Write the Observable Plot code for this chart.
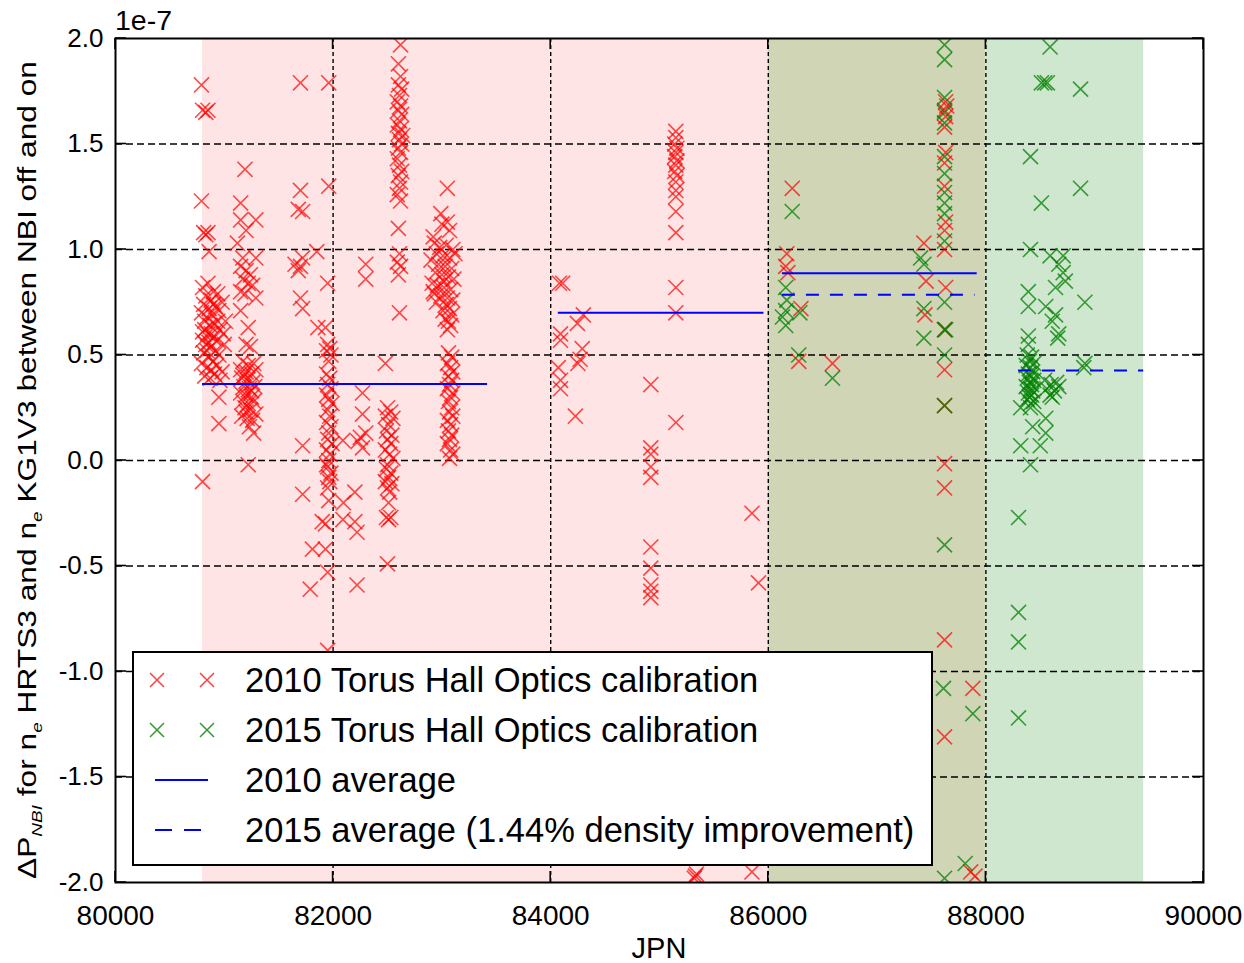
<!DOCTYPE html>
<html>
<head>
<meta charset="utf-8">
<script src="https://cdn.jsdelivr.net/npm/d3@7"></script>
<script src="https://cdn.jsdelivr.net/npm/@observablehq/plot@0.6"></script>
<style>
  body { margin: 0; background: #fff; }
  #chart svg { display: block; font-family: "Liberation Sans", Arial, Helvetica, sans-serif; }
</style>
</head>
<body>
<div id="chart"></div>
<script>
// ---------- data (y values in units of 1e-7) ----------
const xDomain = [80000, 90000];
const yDomain = [-2, 2];
const xTicks = [80000, 82000, 84000, 86000, 88000, 90000];
const yTicks = [-2, -1.5, -1, -0.5, 0, 0.5, 1, 1.5, 2];
const xGrid = [82000, 84000, 86000, 88000];
const yGrid = [-1.5, -1, -0.5, 0, 0.5, 1, 1.5];

const regionStart = [80800, 86000, 88000];
const regionEnd   = [86000, 88000, 89450];

const avg2010Start = [80800, 84070, 86130];
const avg2010End   = [83420, 85960, 87920];
const avg2010Value = [0.363, 0.70, 0.888];

const avg2015Start = [86130, 88300];
const avg2015End   = [87900, 89450];
const avg2015Value = [0.785, 0.427];

const legendLabels = [
  "2010 Torus Hall Optics calibration",
  "2015 Torus Hall Optics calibration",
  "2010 average",
  "2015 average (1.44% density improvement)"
];

const red2010 = [
  // ~80800-81010
  [80790,1.78],[80800,1.66],[80830,1.65],[80850,1.66],[80790,1.23],[80810,1.08],[80830,1.07],[80850,1.08],[80860,0.99],
  [80800,0.82],[80850,0.84],[80900,0.80],[80830,0.78],[80880,0.76],[80940,0.79],[80810,0.74],[80860,0.72],[80920,0.73],[80980,0.75],
  [80790,0.70],[80840,0.68],[80890,0.69],[80950,0.71],[80820,0.66],[80870,0.64],[80910,0.65],[80960,0.62],[80800,0.61],[80850,0.60],
  [80900,0.58],[80940,0.57],[80990,0.60],[80830,0.55],[80880,0.54],[80920,0.52],[80810,0.51],[80860,0.49],[80900,0.47],[80950,0.50],
  [80790,0.46],[80840,0.44],[80880,0.43],[80930,0.45],[80980,0.42],[80820,0.40],[80870,0.39],[80910,0.41],[80960,0.38],[81000,0.55],
  [81010,0.66],[80860,0.56],[80820,0.62],[80940,0.66],[80900,0.74],[80800,0.57],[80880,0.60],[80840,0.52],[80950,0.30],[80950,0.175],
  [80800,-0.10],
  // ~81100-81310
  [81190,1.38],[81150,1.22],[81150,1.14],[81290,1.14],[81200,1.09],[81120,1.03],[81170,0.96],[81290,0.96],[81150,0.92],[81200,0.90],
  [81240,0.88],[81170,0.86],[81220,0.84],[81260,0.83],[81150,0.80],[81290,0.77],[81190,0.79],[81150,0.71],[81220,0.63],[81200,0.55],
  [81240,0.54],[81170,0.47],[81220,0.45],[81270,0.46],[81150,0.43],[81200,0.42],[81250,0.41],[81290,0.43],[81160,0.39],[81210,0.38],
  [81260,0.37],[81180,0.35],[81230,0.34],[81280,0.35],[81150,0.32],[81200,0.31],[81250,0.30],[81170,0.28],[81220,0.27],[81270,0.28],
  [81190,0.25],[81240,0.24],[81290,0.22],[81160,0.21],[81210,0.20],[81260,0.19],[81230,0.16],[81270,0.13],[81200,0.23],[81250,0.33],
  [81180,0.40],[81220,-0.02],
  // ~81650-81880
  [81700,1.79],[81700,1.28],[81680,1.19],[81720,1.18],[81650,0.93],[81700,0.92],[81680,0.90],[81720,0.96],[81850,0.99],[81700,0.77],
  [81720,0.72],[81860,0.63],[81720,0.07],[81720,-0.16],[81810,-0.42],[81790,-0.61],
  // ~81930-82030
  [81960,1.79],[81960,1.30],[81950,0.84],[81930,0.63],[81950,0.55],[81970,0.53],[81940,0.52],[81980,0.50],[81960,0.47],
  [81940,0.41],[81970,0.39],[81950,0.36],[81980,0.34],[81940,0.31],[81960,0.29],[81990,0.27],[81950,0.24],[81970,0.21],[81940,0.18],
  [81980,0.16],[81960,0.13],[81950,0.10],[81990,0.08],[81940,0.05],[81970,0.03],[81960,0.0],[81950,-0.03],[81980,-0.06],[81960,-0.08],
  [81940,-0.02],[81970,-0.10],[81950,-0.13],[81960,-0.19],[81900,-0.29],[81930,-0.30],[81930,-0.42],[81950,-0.53],[81950,-0.90],
  // ~82070-82310
  [82300,0.93],[82300,0.86],[82270,0.32],[82270,0.22],[82300,0.13],[82250,0.11],[82090,0.095],[82230,0.09],[82270,0.06],
  [82095,-0.20],[82200,-0.15],[82090,-0.28],[82200,-0.29],[82220,-0.34],[82220,-0.59],
  // ~82470-82560
  [82480,0.46],[82500,0.25],[82530,0.23],[82480,0.21],[82550,0.20],[82510,0.17],[82490,0.14],[82540,0.12],[82500,0.10],[82530,0.08],
  [82480,0.05],[82520,0.03],[82550,0.01],[82500,-0.02],[82490,-0.04],[82530,-0.06],[82510,-0.08],[82480,-0.10],[82540,-0.11],[82500,-0.13],
  [82520,-0.15],[82510,-0.20],[82490,-0.27],[82530,-0.27],[82510,-0.28],[82500,-0.49],
  // ~82600 tall column
  [82620,1.97],[82600,1.88],[82620,1.82],[82600,1.78],[82630,1.76],[82610,1.73],[82590,1.70],[82620,1.68],[82600,1.66],[82630,1.64],
  [82610,1.61],[82590,1.59],[82620,1.57],[82600,1.55],[82640,1.54],[82610,1.52],[82630,1.50],[82600,1.48],[82620,1.46],[82590,1.43],
  [82610,1.40],[82630,1.37],[82600,1.35],[82620,1.32],[82610,1.29],[82590,1.26],[82620,1.23],[82600,1.10],[82610,0.98],[82590,0.94],
  [82620,0.92],[82600,0.88],[82610,0.70],
  // ~82900-83130
  [83050,1.29],[82990,1.17],[83050,1.13],[83000,1.12],[82920,1.06],[83070,1.09],
  [82930,1.03],[82980,1.01],[83040,1.02],[83100,1.00],[82950,0.98],[83010,0.97],[83070,0.96],[83120,0.98],[82900,0.95],[82970,0.93],
  [83030,0.92],[83090,0.91],[82940,0.89],[83000,0.88],[83060,0.87],[83110,0.86],[82910,0.84],[82960,0.83],[83020,0.82],[83080,0.81],
  [82930,0.79],[82990,0.78],[83050,0.77],[83100,0.76],[82920,0.80],[83040,0.74],[83070,0.72],[83010,0.71],[83090,0.69],[83030,0.67],
  [83060,0.66],[83080,0.64],[83050,0.62],[83020,0.85],[82950,0.75],
  [83060,0.51],[83090,0.49],[83050,0.46],[83080,0.44],[83100,0.42],[83060,0.40],[83090,0.38],[83070,0.36],[83050,0.34],[83100,0.32],
  [83080,0.30],[83060,0.28],[83090,0.25],[83070,0.23],[83100,0.21],[83050,0.19],[83080,0.17],[83060,0.14],[83090,0.12],[83070,0.10],
  [83050,0.08],[83080,0.05],[83100,0.03],[83070,0.01],
  // ~84050-84300
  [84080,0.84],[84110,0.84],[84300,0.69],[84245,0.65],[84090,0.60],[84090,0.57],[84290,0.53],[84270,0.48],[84070,0.44],[84250,0.46],
  [84090,0.38],[84090,0.34],[84227,0.21],
  // ~84920
  [84920,0.36],[84920,0.06],[84920,0.03],[84920,-0.03],[84920,-0.08],[84920,-0.41],[84920,-0.51],[84920,-0.59],[84920,-0.62],[84920,-0.65],
  // ~85150
  [85150,1.56],[85150,1.53],[85140,1.50],[85160,1.48],[85150,1.46],[85140,1.44],[85160,1.42],[85150,1.40],[85140,1.37],[85160,1.35],
  [85150,1.32],[85150,1.28],[85150,1.25],[85150,1.18],[85150,1.08],[85150,0.82],[85150,0.70],[85150,0.18],
  // ~85300-85910
  [85850,-0.25],[85910,-0.58],[85330,-1.97],[85340,-1.96],[85320,-1.98],[85850,-1.95],
  // olive region
  [86220,1.29],[86170,0.98],[86160,0.92],[86180,0.89],[86300,0.72],[86280,0.47],[86590,0.46],[87430,1.03],[87450,0.85],[87440,0.69],
  [87630,1.70],[87640,1.68],[87620,1.66],[87630,1.63],[87620,1.58],[87630,1.46],[87620,1.41],[87620,1.30],[87630,1.13],[87620,1.09],
  [87620,1.00],[87630,0.82],[87620,0.62],[87620,0.43],[87620,0.26],[87620,-0.015],[87620,-0.13],[87620,-0.85],[87620,-1.31],
  [87880,-1.08],[87860,-1.95],[87900,-1.97]
];

const green2015 = [
  // olive region
  [86220,1.18],[86160,0.82],[86170,0.76],[86160,0.71],[86130,0.68],[86160,0.64],[86290,0.70],[86280,0.50],[86590,0.39],
  [87400,0.96],[87430,0.93],[87430,0.72],[87430,0.58],
  [87620,1.97],[87620,1.90],[87620,1.72],[87620,1.65],[87620,1.60],[87620,1.44],[87620,1.36],[87620,1.27],[87620,1.22],[87620,1.17],
  [87620,1.04],[87620,0.75],[87620,0.62],[87630,0.62],[87620,0.50],[87620,0.26],[87620,-0.40],[87610,-1.08],[87880,-1.20],
  [87810,-1.91],[87620,-1.98],
  // green region
  [88590,1.96],[88510,1.79],[88540,1.79],[88565,1.79],[88870,1.76],[88410,1.44],[88870,1.29],[88510,1.22],[88410,1.00],[88590,0.97],
  [88710,0.97],[88670,0.93],[88710,0.89],[88730,0.85],[88640,0.82],[88390,0.80],[88910,0.75],[88550,0.73],[88390,0.73],[88640,0.69],
  [88610,0.66],[88670,0.60],[88660,0.58],[88390,0.59],[88390,0.55],
  [88380,0.50],[88420,0.49],[88400,0.47],[88440,0.46],[88370,0.45],[88410,0.44],[88430,0.42],[88390,0.41],[88420,0.40],[88380,0.39],
  [88440,0.38],[88400,0.37],[88420,0.36],[88370,0.35],[88410,0.34],[88430,0.33],[88390,0.32],[88420,0.31],[88400,0.30],[88380,0.29],
  [88440,0.28],[88410,0.27],
  [88910,0.46],[88900,0.44],
  [88540,0.38],[88600,0.36],[88650,0.37],[88560,0.34],[88630,0.33],[88590,0.31],[88670,0.35],[88610,0.30],
  [88320,0.25],[88410,0.25],[88550,0.20],[88430,0.16],[88550,0.13],[88320,0.07],[88500,0.07],[88410,-0.02],
  [88300,-0.27],[88300,-0.72],[88300,-0.86],[88300,-1.22]
];

// ---------- styles ----------
const regionFills = ["#fee4e4", "#cfd5b5", "#cfe6cf"];
const RED = "#ff0000", GREEN = "#008000", BLUE = "#0000ff";
const FONT = '"Liberation Sans", Arial, Helvetica, sans-serif';

const regionIdx = regionStart.map((_, i) => i);
const avg2010 = avg2010Start.map((s, i) => ({x1: s, x2: avg2010End[i], y: avg2010Value[i]}));
const avg2015 = avg2015Start.map((s, i) => ({x1: s, x2: avg2015End[i], y: avg2015Value[i]}));

const chart = Plot.plot({
  width: 1244,
  height: 963,
  marginLeft: 115,
  marginRight: 41,
  marginTop: 38,
  marginBottom: 81,
  style: {fontFamily: FONT, fontSize: "28px", color: "#000", background: "#fff"},
  x: {domain: xDomain, ticks: xTicks, tickFormat: d => String(d), tickSize: 0, tickPadding: 23, label: null},
  y: {domain: yDomain, ticks: yTicks, tickFormat: d => d.toFixed(1), tickSize: 0, tickPadding: 12, label: null},
  marks: [
    ...regionIdx.map(i => Plot.rect([i], {
      x1: j => regionStart[j], x2: j => regionEnd[j],
      y1: () => yDomain[0], y2: () => yDomain[1],
      fill: regionFills[i]
    })),
    Plot.ruleX(xGrid, {stroke: "#000", strokeWidth: 1.4, strokeDasharray: "4,3"}),
    Plot.ruleY(yGrid, {stroke: "#000", strokeWidth: 1.4, strokeDasharray: "7,4"}),
    Plot.dot(red2010, {x: d => d[0], y: d => d[1], symbol: "times", r: 6.9,
      stroke: RED, strokeOpacity: 0.7, strokeWidth: 1.6, clip: true}),
    Plot.dot(green2015, {x: d => d[0], y: d => d[1], symbol: "times", r: 6.9,
      stroke: GREEN, strokeOpacity: 0.75, strokeWidth: 1.6, clip: true}),
    Plot.ruleY(avg2010, {x1: "x1", x2: "x2", y: "y", stroke: BLUE, strokeWidth: 2}),
    Plot.ruleY(avg2015, {x1: "x1", x2: "x2", y: "y", stroke: BLUE, strokeWidth: 2, strokeDasharray: "13,11"}),
    Plot.frame({stroke: "#000", strokeWidth: 2})
  ]
});

document.getElementById("chart").appendChild(chart);

const svg = d3.select(chart);
svg.selectAll('[aria-label="y-axis tick label"]').attr("font-size", 26);

const xs = chart.scale("x"), ys = chart.scale("y");
const [L, R] = xs.range;
const [B, T] = ys.range;

// inward ticks on all sides
const tg = svg.append("g").attr("stroke", "#000").attr("stroke-width", 1.6);
const TL = 11;
xTicks.forEach(v => {
  const px = xs.apply(v);
  tg.append("line").attr("x1", px).attr("x2", px).attr("y1", B).attr("y2", B - TL);
  tg.append("line").attr("x1", px).attr("x2", px).attr("y1", T).attr("y2", T + TL);
});
yTicks.forEach(v => {
  const py = ys.apply(v);
  tg.append("line").attr("x1", L).attr("x2", L + TL).attr("y1", py).attr("y2", py);
  tg.append("line").attr("x1", R).attr("x2", R - TL).attr("y1", py).attr("y2", py);
});

// offset text
svg.append("text").attr("x", L).attr("y", 30).attr("text-anchor", "start")
  .attr("font-size", 28.5).attr("fill", "#000").text("1e-7");

// x label
svg.append("text").attr("x", (L + R) / 2).attr("y", 958).attr("text-anchor", "middle")
  .attr("font-size", 29).attr("fill", "#000").text("JPN");

// y label
const yl = svg.append("text")
  .attr("transform", `translate(36,${(T + B) / 2 + 10}) rotate(-90)`)
  .attr("text-anchor", "middle").attr("font-size", 25).attr("fill", "#000")
  .attr("textLength", 818).attr("lengthAdjust", "spacingAndGlyphs");
yl.append("tspan").text("ΔP");
yl.append("tspan").attr("dy", 6).attr("font-size", 15).attr("font-style", "italic").text("NBI");
yl.append("tspan").attr("dy", -6).text(" for n");
yl.append("tspan").attr("dy", 6).attr("font-size", 15).attr("font-style", "italic").text("e");
yl.append("tspan").attr("dy", -6).text(" HRTS3 and n");
yl.append("tspan").attr("dy", 6).attr("font-size", 15).attr("font-style", "italic").text("e");
yl.append("tspan").attr("dy", -6).text(" KG1V3 between NBI off and on");

// legend
const lg = svg.append("g").attr("text-anchor", "start");
lg.append("rect").attr("x", 133).attr("y", 652).attr("width", 799).attr("height", 213)
  .attr("fill", "#fff").attr("stroke", "#000").attr("stroke-width", 2);
const rowY = i => 680 + i * 50;
const cross = (cx, cy, color, op) => {
  const s = 7;
  lg.append("path")
    .attr("d", `M${cx - s},${cy - s}L${cx + s},${cy + s}M${cx - s},${cy + s}L${cx + s},${cy - s}`)
    .attr("stroke", color).attr("stroke-opacity", op).attr("stroke-width", 1.5).attr("fill", "none");
};
cross(157, rowY(0), RED, 0.75); cross(207, rowY(0), RED, 0.75);
cross(157, rowY(1), GREEN, 0.8); cross(207, rowY(1), GREEN, 0.8);
lg.append("line").attr("x1", 155).attr("x2", 208).attr("y1", rowY(2)).attr("y2", rowY(2))
  .attr("stroke", BLUE).attr("stroke-width", 2);
lg.append("line").attr("x1", 155).attr("x2", 201).attr("y1", rowY(3)).attr("y2", rowY(3))
  .attr("stroke", BLUE).attr("stroke-width", 2).attr("stroke-dasharray", "17,12");
legendLabels.forEach((t, i) => {
  lg.append("text").attr("x", 245).attr("y", rowY(i) + 12).attr("text-anchor", "start")
    .attr("font-size", 34.5).attr("fill", "#000").text(t);
});
</script>
</body>
</html>
